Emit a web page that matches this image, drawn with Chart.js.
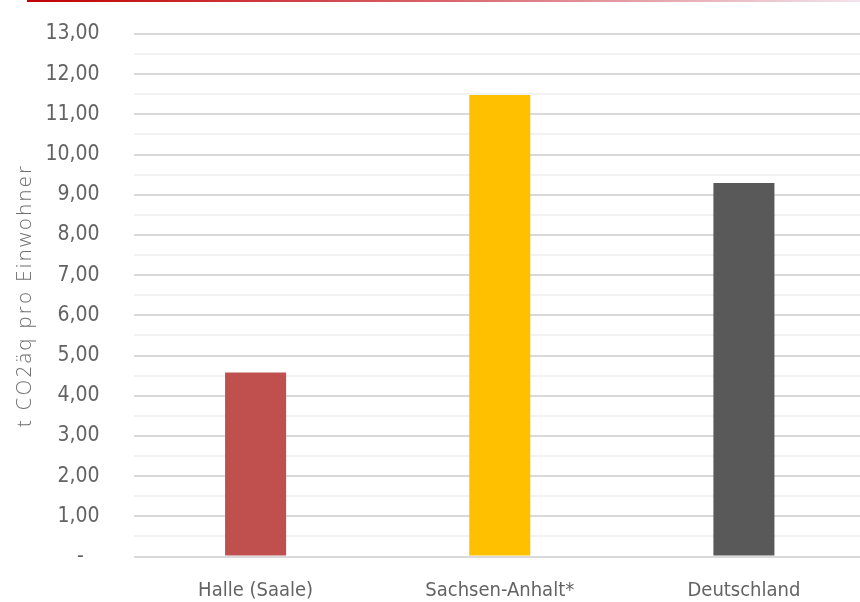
<!DOCTYPE html>
<html lang="de">
<head>
<meta charset="utf-8">
<title>CO2-Emissionen pro Einwohner</title>
<script src="https://cdn.jsdelivr.net/npm/chart.js@4/dist/chart.umd.min.js"></script>
<style>
  html, body { margin: 0; padding: 0; overflow: hidden; background: #ffffff; }
  #wrap { position: relative; width: 860px; height: 602px; overflow: hidden; }
  #topline {
    position: absolute; left: 27px; top: 0; width: 833px; height: 2px;
    background: linear-gradient(90deg, #c00000 0%, #d9646c 50%, #f2e4ec 100%);
  }
  canvas { position: absolute; left: 0; top: 0; }
</style>
</head>
<body>
<div id="wrap">
  <canvas id="chart" width="866" height="602"></canvas>
  <div id="topline"></div>
</div>
<script>
// Regionen und Emissionen (t CO2-Äquivalent je Einwohner)
const categories = ['Halle (Saale)', 'Sachsen-Anhalt*', 'Deutschland'];
const emissions = [4.58, 11.48, 9.29];
const barColors = ['#c0504d', '#ffc000', '#595959'];
const yTickLabels = ['-  \u2009', '1,00', '2,00', '3,00', '4,00', '5,00', '6,00',
  '7,00', '8,00', '9,00', '10,00', '11,00', '12,00', '13,00'];
const yAxisTitle = 't CO2äq pro Einwohner';

const textColor = '#636363';
const labelFont = '"DejaVu Sans Condensed", "Open Sans", sans-serif';
const titleFont = '"Open Sans", "Noto Sans", sans-serif';

// gesperrter Achsentitel
const spacedTitle = {
  id: 'spacedTitle',
  afterLayout(chart) {
    const scale = chart.scales.y;
    if (scale._spaced) return;
    const orig = scale.drawTitle;
    scale.drawTitle = function (...args) {
      const ctx = this.ctx;
      ctx.save();
      ctx.letterSpacing = '2.5px';
      orig.apply(this, args);
      ctx.restore();
    };
    scale._spaced = true;
  }
};

new Chart(document.getElementById('chart'), {
  type: 'bar',
  data: {
    labels: categories,
    datasets: [{
      data: emissions,
      backgroundColor: barColors,
      borderWidth: 0,
      barPercentage: 0.25,
      categoryPercentage: 1
    }]
  },
  options: {
    responsive: false,
    animation: false,
    layout: { padding: { top: 34, left: 0, right: 0, bottom: 0 } },
    plugins: { legend: { display: false }, tooltip: { enabled: false } },
    scales: {
      x: {
        border: { display: false },
        grid: { display: false, drawTicks: false },
        ticks: {
          color: textColor,
          padding: 22,
          maxRotation: 0,
          font: { family: labelFont, size: 20 }
        },
        afterFit(scale) { scale.height = 45.5; }
      },
      y: {
        min: 0,
        max: 13,
        border: { display: false },
        grid: {
          drawTicks: false,
          lineWidth: 2,
          color: ctx => Number.isInteger(ctx.tick.value) ? '#d9d9d9' : '#f2f2f2'
        },
        ticks: {
          stepSize: 0.5,
          autoSkip: false,
          padding: 34,
          color: textColor,
          font: { family: labelFont, size: 21 },
          callback: v => Number.isInteger(v) ? yTickLabels[v] : ''
        },
        title: {
          display: true,
          text: yAxisTitle,
          color: '#707070',
          padding: { top: 13, bottom: 0 },
          font: { family: titleFont, size: 20, weight: 300 }
        },
        afterFit(scale) {
          scale.width = 133.5;
          scale.paddingTop = 0;
          scale.paddingBottom = 0;
        }
      }
    }
  },
  plugins: [spacedTitle]
});
</script>
</body>
</html>
